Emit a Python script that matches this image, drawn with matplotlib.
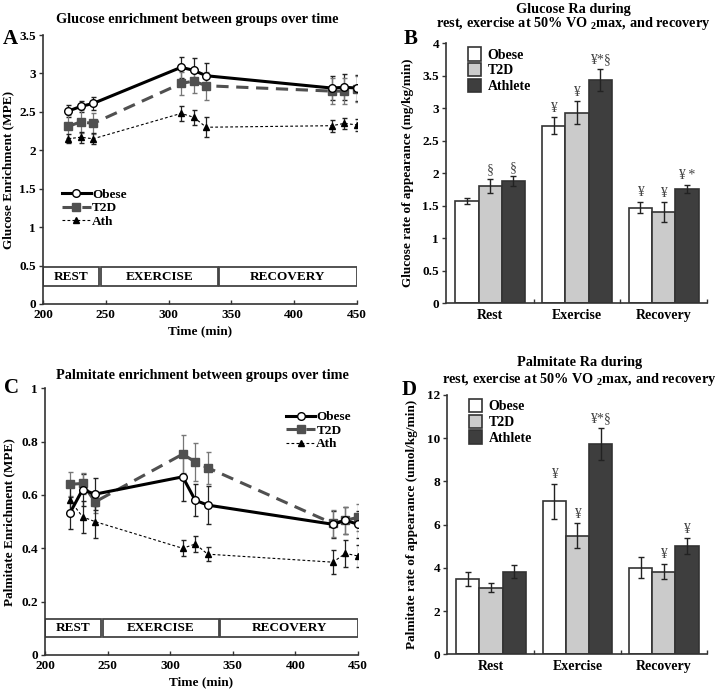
import numpy as np
import matplotlib
matplotlib.use("Agg")
import matplotlib.pyplot as plt
from matplotlib.patches import Rectangle

plt.rcParams['font.family'] = ['Liberation Serif', 'DejaVu Serif']
plt.rcParams['font.weight'] = 'bold'
plt.rcParams['mathtext.fontset'] = 'custom'
plt.rcParams['mathtext.rm'] = 'Liberation Serif:bold'
plt.rcParams['axes.labelweight'] = 'bold'

# time points (min)
time = [220, 230, 240, 310, 320, 330, 430, 440, 450]

# glucose enrichment (MPE)
glu_obese = [2.51, 2.57, 2.61, 3.08, 3.04, 2.97, 2.81, 2.82, 2.81]
glu_obese_err = [0.08, 0.07, 0.08, 0.14, 0.16, 0.16, 0.16, 0.17, 0.17]
glu_t2d = [2.31, 2.37, 2.35, 2.87, 2.90, 2.84, 2.77, 2.77, 2.80]
glu_t2d_err = [0.15, 0.15, 0.14, 0.15, 0.15, 0.18, 0.17, 0.17, 0.17]
glu_ath = [2.15, 2.17, 2.15, 2.48, 2.43, 2.30, 2.32, 2.35, 2.33]
glu_ath_err = [0.06, 0.07, 0.07, 0.10, 0.10, 0.13, 0.08, 0.07, 0.08]

# palmitate enrichment (MPE)
pal_obese = [0.533, 0.620, 0.603, 0.668, 0.580, 0.562, 0.490, 0.505, 0.490]
pal_obese_err = [0.06, 0.06, 0.06, 0.09, 0.06, 0.07, 0.05, 0.05, 0.05]
pal_t2d = [0.640, 0.643, 0.574, 0.753, 0.724, 0.702, 0.493, 0.505, 0.516]
pal_t2d_err = [0.045, 0.04, 0.04, 0.07, 0.07, 0.06, 0.05, 0.05, 0.05]
pal_ath = [0.580, 0.518, 0.500, 0.400, 0.416, 0.378, 0.348, 0.381, 0.371]
pal_ath_err = [0.05, 0.06, 0.06, 0.03, 0.03, 0.025, 0.045, 0.05, 0.04]

# phases
phases = ['REST', 'EXERCISE', 'RECOVERY']
phase_start = [200, 246, 340]
phase_end = [245, 339, 450]

# rate of appearance bars
cats = ['Rest', 'Exercise', 'Recovery']
groups = ['Obese', 'T2D', 'Athlete']
glu_ra = [[1.57, 2.73, 1.47], [1.80, 2.93, 1.40], [1.88, 3.43, 1.76]]
glu_ra_err = [[0.04, 0.13, 0.09], [0.11, 0.18, 0.15], [0.07, 0.17, 0.06]]
glu_ra_sig = [['', '¥', '¥'], ['§', '¥', '¥'], ['§', '¥*§', '¥ *']]
pal_ra = [[3.49, 7.08, 4.00], [3.09, 5.49, 3.83], [3.83, 9.72, 5.00]]
pal_ra_err = [[0.33, 0.82, 0.48], [0.21, 0.58, 0.36], [0.31, 0.75, 0.37]]
pal_ra_sig = [['', '¥', ''], ['', '¥', '¥'], ['', '¥*§', '¥']]

bar_colors = ['white', '#cbcbcb', '#3e3e3e']
edge = '#333333'

fig = plt.figure(figsize=(7.21, 6.92), dpi=100)
axA = fig.add_axes([0.0596, 0.5607, 0.4355, 0.3887])
axB = fig.add_axes([0.6186, 0.5621, 0.362, 0.3753])
axC = fig.add_axes([0.0624, 0.0535, 0.4341, 0.3854])
axD = fig.add_axes([0.620, 0.0545, 0.3606, 0.3747])


def style_axes(ax):
    for s in ['top', 'right']:
        ax.spines[s].set_visible(False)
    for s in ['left', 'bottom']:
        ax.spines[s].set_color(edge)
        ax.spines[s].set_linewidth(1.2)
    ax.tick_params(axis='y', direction='out', length=3, width=1, labelsize=9.5, color=edge, pad=2)


def line_panel(ax, ob, ob_e, t2, t2_e, at, at_e, ylim, yticks, box, ylabel, legpos):
    style_axes(ax)
    ax.errorbar(time, ob, yerr=ob_e, fmt='none', ecolor='#222222', elinewidth=0.9, capsize=1.8, zorder=3)
    ax.errorbar(time, t2, yerr=t2_e, fmt='none', ecolor='#777777', elinewidth=0.9, capsize=1.8, zorder=3)
    ax.errorbar(time, at, yerr=at_e, fmt='none', ecolor='#222222', elinewidth=0.9, capsize=1.8, zorder=3)
    ax.plot(time, ob, color='black', lw=2.2, marker='o', ms=5.5, mfc='white', mec='black',
            mew=1, label='Obese', zorder=5)
    ax.plot(time, t2, color='#505050', lw=2.2, ls=(0, (4, 2.5)), marker='s', ms=5.5,
            mfc='#505050', mec='#505050', label='T2D', zorder=4)
    ax.plot(time, at, color='black', lw=0.8, ls=(0, (2.5, 2)), marker='^', ms=4,
            mfc='black', mec='black', label='Ath', zorder=4)
    for name, x0, x1 in zip(phases, phase_start, phase_end):
        ax.add_patch(Rectangle((x0, box[0]), x1 - x0, box[1] - box[0], fc='white',
                               ec='#444444', lw=1.3, zorder=2))
        ax.text((x0 + x1) / 2, (box[0] + box[1]) / 2, name, ha='center', va='center',
                fontsize=9.5, fontweight='bold')
    ax.set_xlim(200, 450)
    ax.set_ylim(*ylim)
    ax.set_xticks(range(200, 451, 50))
    ax.set_yticks(yticks)
    ax.set_yticklabels([('%g' % v) for v in yticks])
    ax.tick_params(axis='x', direction='in', length=3, width=1, labelsize=9.5, color=edge, pad=3.5)
    ax.set_xlabel('Time (min)', fontsize=9.5, labelpad=3)
    ax.set_ylabel(ylabel, fontsize=9.5, labelpad=4)
    ax.legend(loc='upper left', bbox_to_anchor=legpos, frameon=False, fontsize=9.5,
              handlelength=2.2, handletextpad=0.1, labelspacing=0.1, borderpad=0,
              borderaxespad=0)


def bar_panel(ax, vals, errs, sigs, ylim, yticks, ylabel, sig_off):
    style_axes(ax)
    x = np.arange(len(cats))
    w = 0.268
    for i, g in enumerate(groups):
        pos = x + (i - 1) * w
        ax.bar(pos, vals[i], width=w, color=bar_colors[i], edgecolor=edge, lw=1.2,
               label=g, zorder=2)
        ax.errorbar(pos, vals[i], yerr=errs[i], fmt='none', ecolor='#222222',
                    elinewidth=1, capsize=2, zorder=3)
        for p, v, e, s in zip(pos, vals[i], errs[i], sigs[i]):
            if s:
                ax.text(p, v + e + sig_off, s, ha='center', va='bottom', fontsize=10,
                        fontweight='normal', color='#444444')
    ax.set_xlim(-0.51, 2.5)
    ax.set_ylim(*ylim)
    ax.set_yticks(yticks)
    ax.set_yticklabels([('%g' % v) for v in yticks])
    ax.set_xticks([0.5, 1.5, 2.5])
    ax.set_xticklabels([])
    ax.set_xticks(x, minor=True)
    ax.set_xticklabels(cats, minor=True)
    ax.tick_params(axis='x', which='major', direction='in', length=3, width=1, color=edge)
    ax.tick_params(axis='x', which='minor', length=0, labelsize=10, pad=4)
    ax.set_ylabel(ylabel, fontsize=9.5, labelpad=6)
    ax.legend(loc='upper left', bbox_to_anchor=(0.085, 0.985), frameon=False, fontsize=10,
              handlelength=0.9, handleheight=1.1, handletextpad=0.5, labelspacing=0.1,
              borderpad=0, borderaxespad=0)


line_panel(axA, glu_obese, glu_obese_err, glu_t2d, glu_t2d_err, glu_ath, glu_ath_err,
           (0, 3.5), np.arange(0, 3.51, 0.5), (0.23, 0.48),
           'Glucose Enrichment (MPE)', (0.06, 0.43))
line_panel(axC, pal_obese, pal_obese_err, pal_t2d, pal_t2d_err, pal_ath, pal_ath_err,
           (0, 1.0), np.arange(0, 1.01, 0.2), (0.066, 0.134),
           'Palmitate Enrichment (MPE)', (0.77, 0.915))
bar_panel(axB, glu_ra, glu_ra_err, glu_ra_sig, (0, 4), np.arange(0, 4.01, 0.5),
          'Glucose rate of appearance (mg/kg/min)', 0.04)
bar_panel(axD, pal_ra, pal_ra_err, pal_ra_sig, (0, 12), np.arange(0, 12.1, 2),
          'Palmitate rate of appearance (umol/kg/min)', 0.12)

# titles, placed in figure pixels (from top)
H = 692.0
W = 721.0
titles = [
    ('Glucose enrichment between groups over time', 197, 20),
    ('Glucose Ra during', 573, 9),
    ('rest, exercise at 50% VO $_{2}$max, and recovery', 573, 24),
    ('Palmitate enrichment between groups over time', 202, 375),
    ('Palmitate Ra during', 580, 363),
    ('rest, exercise at 50% VO $_{2}$max, and recovery', 579, 379),
]
for t, px, py in titles:
    fig.text(px / W, 1 - py / H, t, ha='center', va='center', fontsize=10.3, fontweight='bold')

for lbl, px, py in [('A', 3, 39), ('B', 404, 39), ('C', 4, 388), ('D', 402, 390)]:
    fig.text(px / W, 1 - py / H, lbl, fontsize=15, fontweight='bold', va='center')

fig.savefig('out.png', dpi=100)
